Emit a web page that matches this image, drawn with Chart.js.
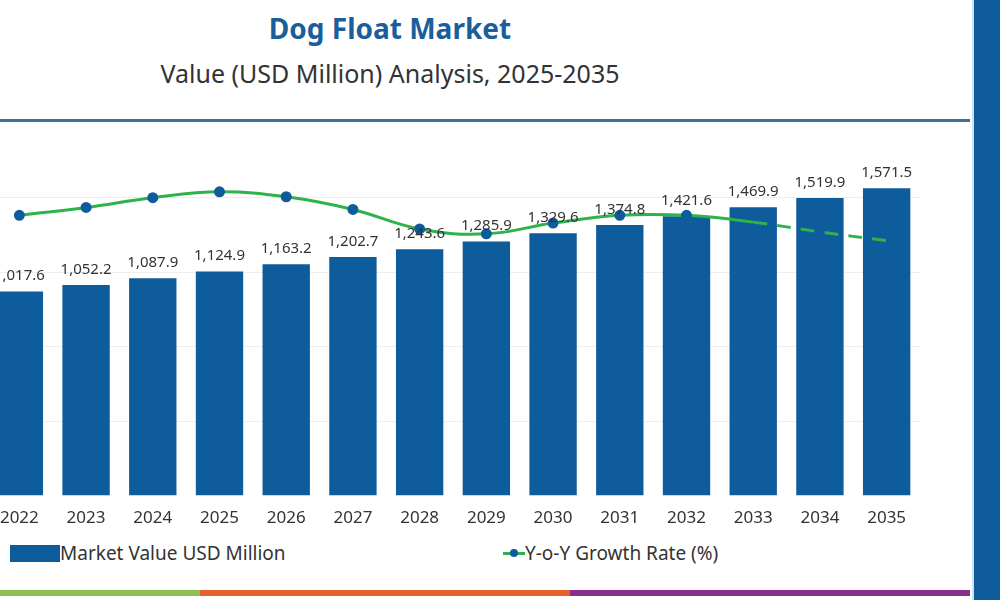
<!DOCTYPE html>
<html><head><meta charset="utf-8">
<script src="https://cdn.jsdelivr.net/npm/chart.js@4"></script>
<style>
body{margin:0;width:1000px;height:600px;overflow:hidden;background:#fff;font-family:Poppins,"Noto Sans",sans-serif;position:relative}
#t1{position:absolute;top:9px;left:0;width:780px;text-align:center;font:bold 28px "Noto Sans",sans-serif;color:#1a5e9c}
#t2{position:absolute;top:56px;left:0;width:780px;text-align:center;font:25px "Noto Sans",sans-serif;color:#333}
#hr{position:absolute;top:119px;left:0;width:970px;height:3px;background:#3f6f9a}
#side{position:absolute;top:0;left:972px;width:28px;height:600px;background:#0f5c9c;border-left:2px solid #cfe0ee}
#wrap{position:absolute;left:-21px;top:137px;width:948px;height:395px}
.lg{position:absolute;top:540px;font:19px "Noto Sans",sans-serif;color:#333}
#strip{position:absolute;top:590px;left:0;width:970px;height:6px;background:linear-gradient(90deg,#8cc152 0 200px,#e5622c 200px 570px,#8a2f8a 570px)}
</style></head><body>
<div id="t1">Dog Float Market</div>
<div id="t2">Value (USD Million) Analysis, 2025-2035</div>
<div id="hr"></div>
<div id="side"></div>
<div id="wrap"><canvas id="c"></canvas></div>
<div class="lg" style="left:10px"><span style="display:inline-block;width:50px;height:17px;background:#0f5c9c;vertical-align:-2px"></span>Market Value USD Million</div>
<div class="lg" style="left:503px"><span style="display:inline-block;width:22px;height:3px;background:#2db34a;vertical-align:5px;position:relative"><span style="position:absolute;left:7px;top:-3px;width:8px;height:8px;border-radius:50%;background:#0f5c9c"></span></span>Y-o-Y Growth Rate (%)</div>
<div id="strip"></div>
<script>
const years=["2022","2023","2024","2025","2026","2027","2028","2029","2030","2031","2032","2033","2034","2035"];
const marketValue=[1017.6,1052.2,1087.9,1124.9,1163.2,1202.7,1243.6,1285.9,1329.6,1374.8,1421.6,1469.9,1519.9,1571.5];
const growthRate=[2.87,2.95,3.05,3.11,3.06,2.93,2.73,2.68,2.79,2.87,2.87,2.80,2.70,2.61];
const labelPlugin={id:'lbl',afterDatasetsDraw(ch){const ctx=ch.ctx;const m=ch.getDatasetMeta(1);ctx.save();ctx.font='15px "Noto Sans",sans-serif';ctx.fillStyle='#333';ctx.textAlign='center';ctx.textBaseline='bottom';
m.data.forEach((b,i)=>{ctx.fillText(marketValue[i].toLocaleString('en-US',{minimumFractionDigits:1}),b.x,b.y-8);});ctx.restore();}};
new Chart(document.getElementById('c'),{
data:{labels:years,datasets:[
{type:'line',data:growthRate,yAxisID:'y1',borderColor:'#2db34a',borderWidth:3,tension:0.4,
pointBackgroundColor:'#0f5c9c',pointBorderColor:'#0f5c9c',pointRadius:c=>c.dataIndex>=11?0:4,
segment:{borderDash:c=>c.p0DataIndex>=11?[14,10]:undefined},order:0},
{type:'bar',data:marketValue,backgroundColor:'#0f5c9c',barPercentage:0.71,categoryPercentage:1,base:-80,order:1}
]},
options:{responsive:true,maintainAspectRatio:false,animation:false,layout:{padding:0},
plugins:{legend:{display:false},tooltip:{enabled:false}},
scales:{x:{grid:{display:false},border:{display:false},ticks:{color:'#333',font:{size:17,family:'"Noto Sans",sans-serif'},padding:4}},
y:{min:-80,max:1810,afterBuildTicks:a=>{a.ticks=[320,720,1120,1520].map(v=>({value:v}));},ticks:{display:false},grid:{color:'#eeeeee',drawTicks:false},border:{display:false}},
y1:{display:false,min:0,max:3.6}}},
plugins:[labelPlugin]});
</script></body></html>
